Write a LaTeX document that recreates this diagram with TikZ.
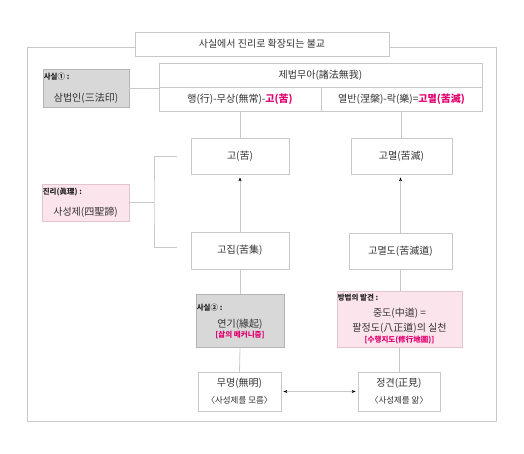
\documentclass[tikz,border=0pt]{standalone}
\usepackage{fontspec}
\setmainfont{Noto Sans CJK KR}
\usepackage{tikz}
\usetikzlibrary{arrows.meta}

\definecolor{linegray}{RGB}{200,200,200}
\definecolor{boxgray}{RGB}{216,216,216}
\definecolor{boxpink}{RGB}{252,228,236}
\definecolor{pinkline}{RGB}{226,196,208}
\definecolor{hlred}{RGB}{226,0,110}
\newcommand{\hl}[1]{\textcolor{hlred}{\bfseries #1}}

\begin{document}
\begin{tikzpicture}[x=1pt, y=-1pt,
    box/.style = {draw = linegray, line width = 0.8pt, fill = white, inner sep = 0pt},
    graybox/.style = {box, fill = boxgray, draw = linegray!90!black},
    pinkbox/.style = {box, fill = boxpink, draw = pinkline},
    txt/.style = {inner sep = 0pt, text = black!80, font = \fontsize{10}{12}\selectfont},
    subtxt/.style = {txt, font = \fontsize{8.5}{10}\selectfont},
    lbl/.style = {inner sep = 0pt, text = black!85, font = \fontsize{7.5}{9}\selectfont\bfseries},
    redtxt/.style = {inner sep = 0pt, font = \fontsize{7.5}{9}\selectfont},
    conn/.style = {draw = linegray, line width = 0.8pt},
    >={Stealth[black, length = 4pt, width = 3pt]}]
    \useasboundingbox (0,0) rectangle (524,454);
    % outer frame
    \draw [conn] (27,47) rectangle (496,421);
    \node [box, minimum width = 254pt, minimum height = 24pt, txt] (title) at (262,44) {사실에서 진리로 확장되는 불교};

    \node [graybox, minimum width = 86pt, minimum height = 38pt] (sam) at (86,88) {};
    \node [lbl, anchor = north west] (sam-l) at ([xshift = 1pt, yshift = -4pt]sam.north west) {사실① :};
    \node [txt] (sam-t) at (86,98) {삼법인(三法印)};

    \node [box, minimum width = 323pt, minimum height = 24pt, txt] (jebeop) at (320.5,75) {제법무아(諸法無我)};
    \node [box, minimum width = 162pt, minimum height = 24pt, txt] (haeng) at (240,99) {행(行)-무상(無常)-\hl{고(苦)}};
    \node [box, minimum width = 161pt, minimum height = 24pt, txt] (yeolban) at (401.5,99) {열반(涅槃)-락(樂)=\hl{고멸(苦滅)}};

    \node [box, minimum width = 98pt, minimum height = 36pt, txt] (go) at (240,156) {고(苦)};
    \node [box, minimum width = 101pt, minimum height = 36pt, txt] (gomyeol) at (401.5,156) {고멸(苦滅)};

    \node [pinkbox, minimum width = 87pt, minimum height = 37pt] (jinri) at (85.5,202.5) {};
    \node [lbl, anchor = north west] (jinri-l) at ([xshift = 1pt, yshift = -4pt]jinri.north west) {진리(眞理) :};
    \node [txt] (jinri-t) at (85.5,212) {사성제(四聖諦)};

    \node [box, minimum width = 98pt, minimum height = 37pt, txt] (gojip) at (240,250.5) {고집(苦集)};
    \node [box, minimum width = 103pt, minimum height = 36pt, txt] (gomyeoldo) at (400.5,251) {고멸도(苦滅道)};

    \node [graybox, minimum width = 88pt, minimum height = 53pt] (yeongi) at (240,321) {};
    \node [lbl, anchor = north west] (yeongi-l) at ([xshift = 1pt, yshift = -10pt]yeongi.north west) {사실② :};
    \node [txt] (yeongi-t) at (240,324) {연기(緣起)};
    \node [redtxt] (yeongi-r) at (240,335) {\hl{[삶의 메커니즘]}};

    \node [pinkbox, minimum width = 125pt, minimum height = 56pt] (bangbeop) at (399.5,319) {};
    \node [lbl, anchor = north west] (bangbeop-l) at ([xshift = 1pt, yshift = -3pt]bangbeop.north west) {방법의 발견 :};
    \node [txt] (bangbeop-1) at (399.5,313) {중도(中道) =};
    \node [txt] (bangbeop-2) at (399.5,328) {팔정도(八正道)의 실천};
    \node [redtxt] (bangbeop-r) at (399.5,340.5) {\hl{[수행지도(修行地圖)]}};

    \node [box, minimum width = 83pt, minimum height = 39pt] (mumyeong) at (239.5,391.5) {};
    \node [txt] (mumyeong-1) at (239.5,383) {무명(無明)};
    \node [subtxt] (mumyeong-2) at (239.5,400) {〈사성제를 모름〉};
    \node [box, minimum width = 82pt, minimum height = 39pt] (jeonggyeon) at (399,391.5) {};
    \node [txt] (jeonggyeon-1) at (399,383) {정견(正見)};
    \node [subtxt] (jeonggyeon-2) at (399,400) {〈사성제를 앎〉};

    \draw [conn] (sam.east) -- (sam.east -| jebeop.west);
    \draw [conn] (haeng.south) -- (go.north);
    \draw [conn] (yeolban.south) -- (gomyeol.north);
    \draw [conn, ->, shorten > = 3pt] (gojip.north) -- (go.south);
    \draw [conn, ->, shorten > = 3pt] (gomyeoldo.north) -- (gomyeoldo.north |- gomyeol.south);

    \coordinate (br) at (154,202.5);
    \draw [conn] (jinri.east) -- (br);
    \draw [conn] ([xshift = -14pt]go.west) -| (br) |- ([xshift = -14pt, yshift = 3.5pt]gojip.west);

    \draw [conn] (gojip.south) -- (yeongi.north);
    \draw [conn] (gomyeoldo.south) -- (gomyeoldo.south |- bangbeop.north);
    \draw [conn] (yeongi.south) -- (mumyeong.north);
    \draw [conn] (bangbeop.south -| jeonggyeon.north) -- (jeonggyeon.north);
    \draw [conn, <->, shorten < = 2pt, shorten > = 2pt] (mumyeong.east) -- (jeonggyeon.west);
\end{tikzpicture}
\end{document}
